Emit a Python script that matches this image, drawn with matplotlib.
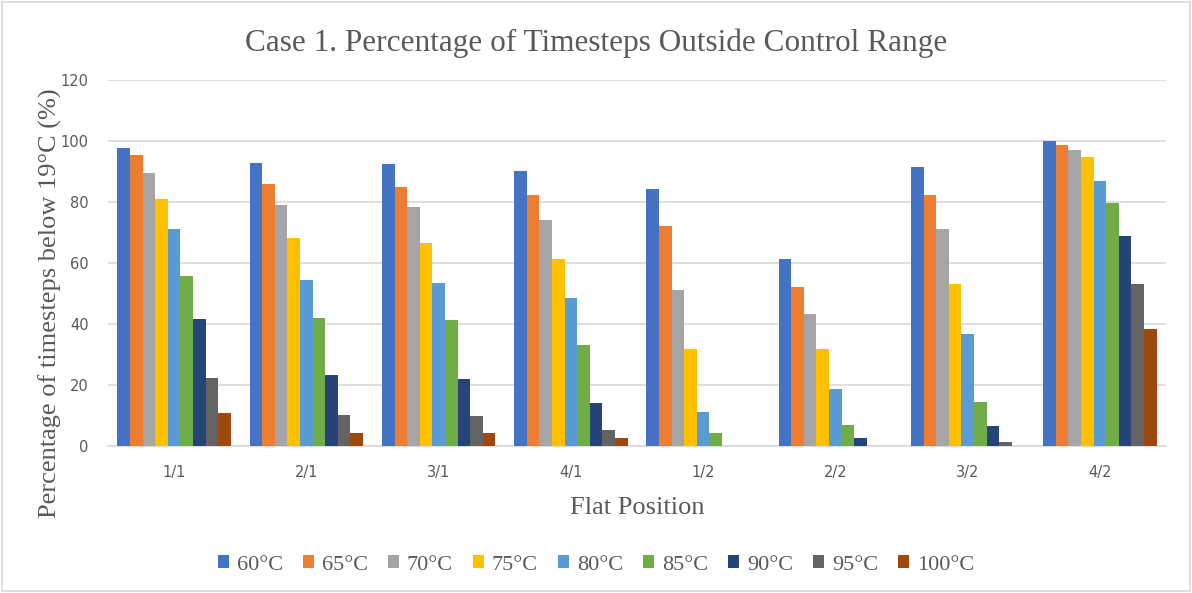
import numpy as np
import matplotlib.pyplot as plt
from matplotlib.patches import Rectangle

positions = ['1/1', '2/1', '3/1', '4/1', '1/2', '2/2', '3/2', '4/2']
series = ['60°C', '65°C', '70°C', '75°C', '80°C', '85°C', '90°C', '95°C', '100°C']

t60 = [97.6, 92.9, 92.4, 90.2, 84.4, 61.2, 91.5, 100.0]
t65 = [95.4, 86.0, 85.0, 82.3, 72.1, 52.2, 82.2, 98.8]
t70 = [89.4, 79.1, 78.5, 74.1, 51.0, 43.3, 71.0, 97.1]
t75 = [80.9, 68.2, 66.4, 61.2, 31.7, 31.7, 53.0, 94.9]
t80 = [71.2, 54.4, 53.5, 48.6, 11.1, 18.8, 36.8, 87.0]
t85 = [55.8, 42.0, 41.4, 33.0, 4.2, 7.0, 14.5, 79.8]
t90 = [41.7, 23.2, 21.9, 14.2, 0.0, 2.5, 6.7, 69.0]
t95 = [22.4, 10.3, 9.7, 5.3, 0.0, 0.0, 1.4, 53.2]
t100 = [10.8, 4.4, 4.2, 2.5, 0.0, 0.0, 0.0, 38.4]

values = [t60, t65, t70, t75, t80, t85, t90, t95, t100]
colors = ['#4472C4', '#ED7D31', '#A5A5A5', '#FFC000', '#5B9BD5',
          '#70AD47', '#264478', '#636363', '#9E480E']

serif = ['Liberation Serif', 'DejaVu Serif']
grey = '#595959'

fig = plt.figure(figsize=(11.92, 5.93), dpi=100)
ax = fig.add_axes([108 / 1192, 1 - 446 / 593, 1058 / 1192, 366 / 593])

x = np.arange(len(positions))
w = 0.857 / len(series)
for i, (name, vals, c) in enumerate(zip(series, values, colors)):
    off = (i - (len(series) - 1) / 2) * w
    ax.bar(x + off, vals, w, color=c, label=name, zorder=3)

ax.set_xlim(-0.5, len(positions) - 0.5)
ax.set_ylim(0, 120)
ax.set_yticks(range(0, 121, 20))
ax.set_xticks(x)
ax.set_xticklabels(positions)
ax.grid(axis='y', color='#D9D9D9', linewidth=1.2, zorder=0)
for s in ['top', 'right', 'left']:
    ax.spines[s].set_visible(False)
ax.spines['bottom'].set_color('#D9D9D9')
ax.spines['bottom'].set_linewidth(1.2)
ax.tick_params(axis='both', length=0, colors=grey, labelsize=10.5)
ax.tick_params(axis='x', pad=14)
ax.tick_params(axis='y', pad=14)

fig.text(0.5, 1 - 43 / 593, 'Case 1. Percentage of Timesteps Outside Control Range',
         ha='center', va='center', fontsize=22.5, color=grey, family=serif)
ax.set_xlabel('Flat Position', fontsize=19, color=grey, family=serif, labelpad=12)
ax.set_ylabel('Percentage of timesteps below 19°C (%)', fontsize=19, color=grey,
              family=serif)
ax.yaxis.set_label_coords(-46 / 1058, 0.39)

leg = fig.legend(loc='center', bbox_to_anchor=(0.5, 1 - 565 / 593), ncol=9,
                 frameon=False, prop={'family': serif, 'size': 16},
                 handlelength=0.5, handleheight=0.5, handletextpad=0.35,
                 columnspacing=0.9, labelcolor=grey)

fig.patches.append(Rectangle((0.002, 0.003), 0.996, 0.994, transform=fig.transFigure,
                             fill=False, edgecolor='#D9D9D9', linewidth=1.2))

fig.savefig('out.png', dpi=100)
